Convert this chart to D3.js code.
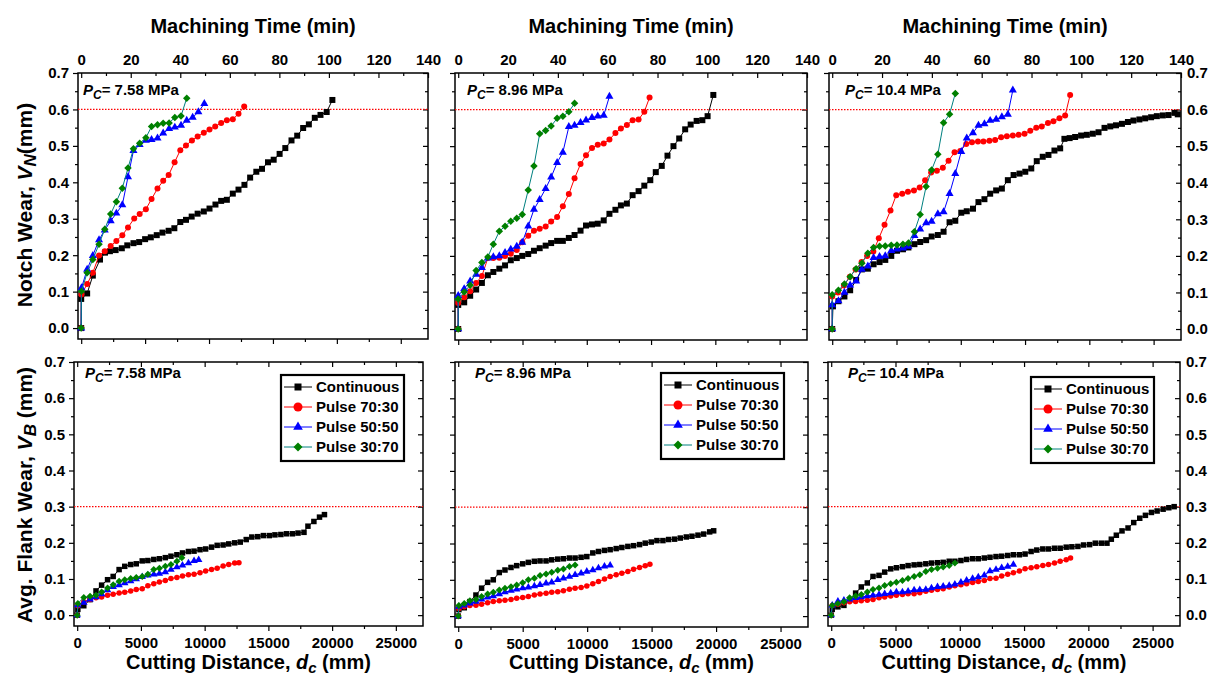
<!DOCTYPE html>
<html>
<head>
<meta charset="utf-8">
<script src="https://cdn.jsdelivr.net/npm/d3@7"></script>
<style>
  body { margin: 0; background: #fff; }
  svg text { font-family: "Liberation Sans", Arial, sans-serif; font-weight: bold; fill: #000; }
</style>
</head>
<body>
<svg id="chart" width="1208" height="678"></svg>
<script>
// ---- data ----
const seriesNames = ["Continuous", "Pulse 70:30", "Pulse 50:50", "Pulse 30:70"];
const pressureLabels = ["7.58", "8.96", "10.4"];
const timeTicks = [0, 20, 40, 60, 80, 100, 120, 140];
const distTicks = [0, 5000, 10000, 15000, 20000, 25000];
const wearTicks = [0, 0.1, 0.2, 0.3, 0.4, 0.5, 0.6, 0.7];
const notchLimit = 0.6;
const flankLimit = 0.3;

// notch wear VN (mm) vs machining time (min)
const vnCont758 = [[0,0],[0,0.08],[2.4,0.095],[4.7,0.144],[7.6,0.188],[9.6,0.207],[11.6,0.211],[13.9,0.214],[16.4,0.219],[18.6,0.227],[21.1,0.233],[23.4,0.236],[25.8,0.244],[28.1,0.249],[30.5,0.255],[32.8,0.262],[35.3,0.267],[37.6,0.274],[40,0.291],[42.3,0.297],[44.6,0.306],[47,0.314],[49.5,0.32],[51.8,0.328],[54.2,0.339],[56.5,0.349],[58.8,0.352],[61.2,0.369],[63.5,0.38],[65.9,0.393],[68.2,0.413],[70.7,0.429],[73,0.437],[75.4,0.455],[77.7,0.462],[80.1,0.478],[82.4,0.494],[84.9,0.515],[87.2,0.528],[89.6,0.549],[91.9,0.559],[94.3,0.577],[96.6,0.585],[99.1,0.593],[101.4,0.626]];
const vnP7030_758 = [[0,0],[0.1,0.092],[2.4,0.121],[4.7,0.152],[7.2,0.199],[9.5,0.211],[11.9,0.225],[14.2,0.239],[16.6,0.255],[18.9,0.276],[21.4,0.301],[23.6,0.313],[26.1,0.326],[28.4,0.354],[30.8,0.383],[33.1,0.404],[35.3,0.42],[37.7,0.455],[40,0.488],[42.3,0.501],[44.7,0.515],[47,0.526],[49.5,0.536],[51.8,0.545],[54.1,0.553],[56.5,0.563],[58.8,0.57],[61.2,0.573],[63.5,0.588],[65.8,0.608]];
const vnP5050_758 = [[0,0],[0.1,0.11],[2.4,0.161],[4.7,0.199],[7.2,0.242],[9.5,0.269],[11.9,0.294],[14.2,0.315],[16.6,0.338],[18.9,0.415],[21.1,0.487],[23.6,0.503],[26.1,0.515],[28.4,0.517],[30.8,0.521],[33.1,0.535],[35.5,0.547],[37.8,0.551],[40.3,0.556],[42.6,0.57],[45,0.578],[47.3,0.593],[49.7,0.616]];
const vnP3070_758 = [[0,0],[0.1,0.101],[2.4,0.152],[4.7,0.188],[7.2,0.23],[9.5,0.271],[11.9,0.313],[14.2,0.347],[16.6,0.384],[18.9,0.439],[21.1,0.492],[23.6,0.507],[26.1,0.522],[28.4,0.553],[30.8,0.558],[33.1,0.562],[35.5,0.563],[37.8,0.578],[40.3,0.582],[42.6,0.631]];

const vnCont896 = [[0,0],[0,0.066],[2.4,0.073],[4.8,0.091],[7.2,0.108],[9.5,0.126],[11.9,0.147],[14.1,0.156],[16.5,0.165],[18.8,0.174],[21.1,0.188],[23.5,0.194],[25.7,0.2],[28.1,0.205],[30.4,0.214],[32.7,0.221],[35.1,0.228],[37.3,0.235],[39.7,0.241],[42,0.241],[44.4,0.249],[46.7,0.257],[49.1,0.269],[51.3,0.283],[53.7,0.286],[56,0.288],[58.4,0.297],[60.7,0.315],[63.1,0.326],[65.3,0.338],[67.7,0.343],[70,0.366],[72.4,0.377],[74.7,0.392],[77.1,0.407],[79.3,0.429],[81.7,0.446],[84,0.474],[86.4,0.5],[88.7,0.521],[91.1,0.546],[93.3,0.559],[95.7,0.569],[98,0.571],[100.1,0.582],[102.4,0.64]];
const vnP7030_896 = [[0,0],[0,0.071],[2.4,0.087],[4.8,0.103],[7.2,0.126],[9.5,0.145],[11.9,0.194],[14.1,0.194],[16.5,0.195],[18.8,0.2],[21.1,0.206],[23.5,0.216],[25.7,0.237],[28.1,0.255],[30.4,0.269],[32.7,0.274],[35.1,0.28],[37.3,0.294],[39.7,0.306],[42,0.336],[44.4,0.369],[46.7,0.412],[49.1,0.451],[51.3,0.475],[53.7,0.495],[56,0.504],[58.4,0.507],[60.7,0.518],[63.1,0.536],[65.3,0.548],[67.7,0.558],[70,0.571],[72.4,0.573],[74.7,0.594],[76.8,0.633]];
const vnP5050_896 = [[0,0],[0,0.091],[2.4,0.11],[4.8,0.131],[7.2,0.149],[9.5,0.168],[11.9,0.194],[14.1,0.197],[16.5,0.2],[18.8,0.209],[21.1,0.218],[23.5,0.226],[25.7,0.237],[28.1,0.281],[30.4,0.327],[32.7,0.354],[35.1,0.384],[37.3,0.415],[39.7,0.455],[42,0.483],[44.4,0.553],[46.7,0.557],[49.1,0.564],[51.3,0.571],[53.7,0.578],[56,0.582],[58.4,0.584],[60.7,0.636]];
const vnP3070_896 = [[0,0],[0,0.082],[2.4,0.101],[4.8,0.12],[7.2,0.16],[9.5,0.182],[11.9,0.197],[14.1,0.232],[16.5,0.267],[18.8,0.281],[21.1,0.295],[23.5,0.303],[25.7,0.313],[28.1,0.38],[30.4,0.446],[32.7,0.534],[35.1,0.543],[37.3,0.555],[39.7,0.576],[42,0.582],[44.4,0.594],[46.7,0.617]];

const vnCont104 = [[0,0],[0.3,0.062],[2.5,0.076],[4.9,0.089],[7.2,0.106],[9.6,0.134],[11.9,0.163],[14.3,0.165],[16.6,0.177],[19,0.183],[21.3,0.189],[23.7,0.2],[26,0.214],[28.4,0.218],[30.6,0.223],[33,0.232],[35.3,0.238],[37.7,0.243],[39.9,0.253],[42.4,0.257],[44.7,0.266],[47.1,0.292],[49.4,0.296],[51.8,0.318],[54,0.322],[56.5,0.329],[58.7,0.347],[61.1,0.355],[63.4,0.37],[65.8,0.379],[68.1,0.384],[70.5,0.407],[72.8,0.421],[75.2,0.425],[77.5,0.43],[79.9,0.439],[82.1,0.459],[84.5,0.471],[86.8,0.476],[89.2,0.488],[91.5,0.494],[93.2,0.52],[95.3,0.522],[97.5,0.525],[99.9,0.529],[102.2,0.531],[104.6,0.534],[106.9,0.538],[109.3,0.55],[111.6,0.554],[113.9,0.557],[116.3,0.561],[118.7,0.566],[120.9,0.57],[123.3,0.573],[125.6,0.576],[128,0.579],[130.3,0.582],[132.7,0.584],[135,0.585],[137.4,0.591],[138.7,0.587]];
const vnP7030_104 = [[0,0],[0,0.089],[2.3,0.1],[4.7,0.119],[7.1,0.143],[9.4,0.163],[11.8,0.183],[14,0.2],[16.5,0.212],[18.7,0.248],[21,0.285],[23.4,0.324],[25.7,0.366],[28.1,0.37],[30.4,0.375],[32.8,0.379],[35.1,0.387],[37.3,0.407],[39.7,0.428],[42,0.433],[44.4,0.441],[46.7,0.46],[49.1,0.483],[51.4,0.487],[53.8,0.506],[56.1,0.511],[58.5,0.513],[60.7,0.513],[63.1,0.515],[65.4,0.517],[67.8,0.524],[70.1,0.527],[72.5,0.529],[74.8,0.531],[77.2,0.534],[79.5,0.542],[81.9,0.55],[84.1,0.554],[86.6,0.563],[88.8,0.568],[91.2,0.576],[93.5,0.584],[95.5,0.64]];
const vnP5050_104 = [[0,0],[0,0.066],[2.5,0.077],[4.9,0.1],[7.2,0.12],[9.6,0.131],[11.9,0.163],[14.3,0.172],[16.6,0.195],[19,0.198],[21.3,0.2],[23.7,0.214],[26,0.218],[28.4,0.221],[30.6,0.226],[33,0.255],[35.3,0.273],[37.7,0.29],[39.9,0.294],[42.4,0.315],[44.7,0.32],[47.1,0.37],[49.4,0.425],[51.8,0.485],[54,0.522],[56.5,0.536],[58.7,0.557],[61.1,0.561],[63.4,0.57],[65.8,0.573],[68.1,0.58],[70.5,0.587],[72.5,0.653]];
const vnP3070_104 = [[0,0],[0,0.094],[2.5,0.106],[4.9,0.123],[7.2,0.143],[9.6,0.165],[11.9,0.18],[14.3,0.207],[16.6,0.223],[19,0.226],[21.3,0.227],[23.7,0.229],[26,0.23],[28.4,0.232],[30.6,0.235],[33,0.266],[35.3,0.313],[37.7,0.39],[39.9,0.435],[42.4,0.478],[44.7,0.564],[47.1,0.587],[49.4,0.644]];

// average flank wear VB (mm) vs cutting distance (mm)
const vbCont758 = [[0,0],[52,0.016],[518,0.026],[1010,0.043],[1476,0.067],[1917,0.083],[2383,0.098],[2823,0.107],[3289,0.126],[3730,0.135],[4196,0.14],[4636,0.142],[5102,0.15],[5543,0.151],[6009,0.154],[6449,0.156],[6915,0.159],[7356,0.163],[7822,0.167],[8262,0.172],[8728,0.176],[9169,0.177],[9635,0.181],[10075,0.183],[10541,0.188],[10982,0.193],[11448,0.194],[11888,0.197],[12354,0.2],[12795,0.202],[13261,0.209],[13701,0.216],[14167,0.217],[14608,0.22],[15074,0.22],[15514,0.222],[15980,0.223],[16421,0.225],[16887,0.225],[17327,0.227],[17793,0.229],[18104,0.246],[18570,0.259],[19011,0.271],[19399,0.278]];
const vbP7030_758 = [[0,0],[52,0.026],[518,0.037],[1010,0.043],[1476,0.048],[1917,0.05],[2383,0.055],[2823,0.058],[3289,0.061],[3730,0.063],[4196,0.067],[4636,0.071],[5102,0.073],[5543,0.081],[6009,0.087],[6449,0.092],[6915,0.096],[7356,0.101],[7822,0.104],[8262,0.108],[8728,0.112],[9169,0.113],[9635,0.117],[10075,0.122],[10541,0.126],[10982,0.13],[11448,0.136],[11888,0.14],[12354,0.144],[12691,0.145]];
const vbP5050_758 = [[0,0],[52,0.028],[518,0.035],[1010,0.044],[1476,0.05],[1917,0.058],[2383,0.069],[2823,0.078],[3289,0.083],[3730,0.089],[4196,0.094],[4636,0.1],[5102,0.106],[5543,0.11],[6009,0.113],[6449,0.115],[6915,0.119],[7356,0.126],[7822,0.133],[8262,0.138],[8728,0.144],[9169,0.15],[9531,0.153]];
const vbP3070_758 = [[0,0],[52,0.032],[518,0.049],[1010,0.052],[1476,0.055],[1917,0.064],[2383,0.075],[2823,0.084],[3289,0.094],[3730,0.098],[4196,0.101],[4636,0.104],[5102,0.107],[5543,0.113],[6009,0.126],[6449,0.13],[6915,0.135],[7356,0.14],[7822,0.149],[8210,0.159]];

const vbCont896 = [[0,0],[52,0.018],[466,0.023],[906,0.04],[1373,0.058],[1813,0.077],[2279,0.093],[2720,0.1],[3186,0.12],[3626,0.127],[4092,0.134],[4533,0.139],[4999,0.144],[5439,0.148],[5905,0.151],[6346,0.152],[6812,0.152],[7252,0.155],[7718,0.157],[8159,0.158],[8625,0.16],[9065,0.16],[9531,0.162],[9972,0.164],[10438,0.174],[10878,0.178],[11344,0.181],[11785,0.183],[12251,0.186],[12691,0.189],[13157,0.192],[13598,0.194],[14064,0.197],[14504,0.201],[14970,0.204],[15411,0.208],[15877,0.208],[16317,0.211],[16783,0.212],[17224,0.215],[17690,0.218],[18130,0.22],[18596,0.223],[19037,0.226],[19503,0.232],[19814,0.235]];
const vbP7030_896 = [[0,0],[52,0.021],[466,0.026],[906,0.029],[1373,0.03],[1813,0.033],[2279,0.037],[2720,0.04],[3186,0.042],[3626,0.044],[4092,0.046],[4533,0.049],[4999,0.051],[5439,0.054],[5905,0.058],[6346,0.061],[6812,0.063],[7252,0.066],[7718,0.067],[8159,0.07],[8625,0.074],[9065,0.077],[9531,0.079],[9972,0.083],[10438,0.089],[10878,0.095],[11344,0.102],[11785,0.109],[12251,0.114],[12691,0.118],[13157,0.123],[13598,0.129],[14064,0.134],[14504,0.139],[14867,0.143]];
const vbP5050_896 = [[0,0],[52,0.026],[466,0.03],[906,0.035],[1373,0.04],[1813,0.046],[2279,0.052],[2720,0.055],[3186,0.061],[3626,0.066],[4092,0.07],[4533,0.074],[4999,0.077],[5439,0.079],[5905,0.083],[6346,0.086],[6812,0.09],[7252,0.093],[7718,0.1],[8159,0.104],[8625,0.109],[9065,0.114],[9531,0.118],[9972,0.123],[10438,0.127],[10878,0.132],[11344,0.137],[11785,0.14]];
const vbP3070_896 = [[0,0],[52,0.029],[466,0.035],[906,0.042],[1373,0.046],[1813,0.054],[2279,0.061],[2720,0.066],[3186,0.072],[3626,0.077],[4092,0.081],[4533,0.086],[4999,0.092],[5439,0.1],[5905,0.104],[6346,0.112],[6812,0.116],[7252,0.121],[7718,0.126],[8159,0.13],[8625,0.137],[9065,0.141]];

const vbCont104 = [[0,0],[78,0.016],[520,0.023],[988,0.027],[1430,0.041],[1898,0.061],[2340,0.078],[2808,0.089],[3250,0.107],[3718,0.11],[4160,0.119],[4628,0.128],[5070,0.131],[5538,0.134],[5980,0.137],[6448,0.139],[6890,0.14],[7358,0.142],[7800,0.144],[8268,0.145],[8710,0.146],[9178,0.149],[9620,0.149],[10088,0.151],[10530,0.154],[10998,0.156],[11440,0.156],[11908,0.158],[12350,0.16],[12818,0.162],[13260,0.163],[13728,0.165],[14170,0.167],[14638,0.167],[15080,0.169],[15548,0.176],[15990,0.18],[16458,0.183],[16900,0.183],[17368,0.185],[17810,0.185],[18278,0.188],[18720,0.189],[19188,0.19],[19630,0.194],[20098,0.195],[20540,0.199],[21008,0.199],[21450,0.199],[21788,0.21],[22178,0.221],[22620,0.233],[23088,0.241],[23530,0.256],[23998,0.268],[24440,0.276],[24908,0.284],[25350,0.288],[25818,0.293],[26260,0.297],[26676,0.3]];
const vbP7030_104 = [[0,0],[78,0.027],[520,0.03],[988,0.034],[1430,0.037],[1898,0.038],[2340,0.04],[2808,0.041],[3250,0.043],[3718,0.048],[4160,0.05],[4628,0.053],[5070,0.055],[5538,0.057],[5980,0.059],[6448,0.059],[6890,0.062],[7358,0.066],[7800,0.069],[8268,0.071],[8710,0.073],[9178,0.078],[9620,0.081],[10088,0.084],[10530,0.087],[10998,0.09],[11440,0.093],[11908,0.096],[12350,0.101],[12818,0.102],[13260,0.108],[13728,0.113],[14170,0.117],[14638,0.122],[15080,0.128],[15548,0.131],[15990,0.134],[16458,0.137],[16900,0.14],[17368,0.144],[17810,0.149],[18278,0.153],[18616,0.158]];
const vbP5050_104 = [[0,0],[78,0.027],[520,0.038],[988,0.041],[1430,0.044],[1898,0.048],[2340,0.05],[2808,0.053],[3250,0.055],[3718,0.057],[4160,0.059],[4628,0.061],[5070,0.064],[5538,0.064],[5980,0.066],[6448,0.069],[6890,0.07],[7358,0.071],[7800,0.075],[8268,0.078],[8710,0.08],[9178,0.082],[9620,0.085],[10088,0.091],[10530,0.096],[10998,0.101],[11440,0.105],[11908,0.11],[12350,0.122],[12818,0.126],[13260,0.131],[13728,0.134],[14170,0.14]];
const vbP3070_104 = [[0,0],[78,0.027],[520,0.032],[988,0.037],[1430,0.048],[1898,0.053],[2340,0.057],[2808,0.064],[3250,0.071],[3718,0.075],[4160,0.082],[4628,0.087],[5070,0.091],[5538,0.096],[5980,0.101],[6448,0.107],[6890,0.112],[7358,0.121],[7800,0.126],[8268,0.13],[8710,0.133],[9178,0.137],[9620,0.144]];

const notchSeries = [
  [vnCont758, vnP7030_758, vnP5050_758, vnP3070_758],
  [vnCont896, vnP7030_896, vnP5050_896, vnP3070_896],
  [vnCont104, vnP7030_104, vnP5050_104, vnP3070_104]
];
const flankSeries = [
  [vbCont758, vbP7030_758, vbP5050_758, vbP3070_758],
  [vbCont896, vbP7030_896, vbP5050_896, vbP3070_896],
  [vbCont104, vbP7030_104, vbP5050_104, vbP3070_104]
];

// ---- layout / style ----
const svg = d3.select("#chart");
const distDomain = [-250, 27130];
const mmPerMin = 27130 / 140;   // top time axis is a relabel of the distance axis
const wearDomain = [-0.03, 0.7];

const styles = [
  {line: "#000000", fill: "#000000", shape: "square"},
  {line: "#ff0000", fill: "#ff0000", shape: "circle"},
  {line: "#0000ff", fill: "#0000ff", shape: "triangle"},
  {line: "#008080", fill: "#008000", shape: "diamond"}
];

const boxes = [
  [{x0: 78, x1: 428, y0: 73, y1: 339}, {x0: 455, x1: 807, y0: 73, y1: 340}, {x0: 829, x1: 1181, y0: 73, y1: 340}],
  [{x0: 74, x1: 423, y0: 362, y1: 626}, {x0: 455, x1: 808, y0: 362, y1: 627}, {x0: 828, x1: 1180, y0: 362, y1: 626}]
];
const labelPos = [[[83, 95], [467, 95], [845, 95]], [[85, 378], [475, 378], [848, 378]]];
const legendPos = [[281, 375], [661, 373], [1031, 377]];

function markerPath(shape, s) {
  if (shape === "square") return d3.symbol(d3.symbolSquare, s * s)();
  if (shape === "circle") return d3.symbol(d3.symbolCircle, Math.PI * s * s / 4)();
  if (shape === "triangle") return d3.symbol(d3.symbolTriangle, s * s * 0.5)();
  return d3.symbol(d3.symbolSquare, s * s / 2)();
}

function styleAxis(g) {
  g.select(".domain").remove();
  g.selectAll(".tick line").attr("stroke", "#000").attr("stroke-width", 1.2);
  g.selectAll("text").style("font-size", "15px").attr("font-family", null);
}

function drawPanel(row, col) {
  const b = boxes[row][col];
  const g = svg.append("g");
  const x = d3.scaleLinear().domain(distDomain).range([b.x0, b.x1]);
  const xTime = d3.scaleLinear().domain(distDomain.map(d => d / mmPerMin)).range([b.x0, b.x1]);
  const y = d3.scaleLinear().domain(wearDomain).range([b.y1, b.y0]);
  const fmt = d3.format(".1f");
  const minorWear = d3.range(0.05, 0.7, 0.1);
  const minorDist = d3.range(2500, 27000, 5000);

  // left axis (ticks out)
  g.append("g").attr("transform", `translate(${b.x0},0)`)
    .call(d3.axisLeft(y).tickValues(wearTicks).tickSize(5).tickPadding(4)
      .tickFormat(col === 0 ? fmt : "")).call(styleAxis);
  g.append("g").attr("transform", `translate(${b.x0},0)`)
    .call(d3.axisLeft(y).tickValues(minorWear).tickSize(3).tickFormat("")).call(styleAxis);
  // right axis (ticks in)
  g.append("g").attr("transform", `translate(${b.x1},0)`)
    .call(d3.axisRight(y).tickValues(wearTicks).tickSize(-5).tickPadding(6)
      .tickFormat(col === 2 ? fmt : "")).call(styleAxis);
  g.append("g").attr("transform", `translate(${b.x1},0)`)
    .call(d3.axisRight(y).tickValues(minorWear).tickSize(-3).tickFormat("")).call(styleAxis);
  // bottom axis (ticks out)
  g.append("g").attr("transform", `translate(0,${b.y1})`)
    .call(d3.axisBottom(x).tickValues(distTicks).tickSize(5).tickPadding(6)
      .tickFormat(row === 1 ? d3.format("d") : "")).call(styleAxis);
  g.append("g").attr("transform", `translate(0,${b.y1})`)
    .call(d3.axisBottom(x).tickValues(minorDist).tickSize(3).tickFormat("")).call(styleAxis);
  // top axis (ticks in)
  if (row === 0) {
    g.append("g").attr("transform", `translate(0,${b.y0})`)
      .call(d3.axisTop(xTime).tickValues(timeTicks).tickSize(-5).tickPadding(8)).call(styleAxis);
    g.append("g").attr("transform", `translate(0,${b.y0})`)
      .call(d3.axisTop(xTime).tickValues(d3.range(10, 140, 20)).tickSize(-3).tickFormat("")).call(styleAxis);
  } else {
    g.append("g").attr("transform", `translate(0,${b.y0})`)
      .call(d3.axisTop(x).tickValues(distTicks).tickSize(-5).tickFormat("")).call(styleAxis);
    g.append("g").attr("transform", `translate(0,${b.y0})`)
      .call(d3.axisTop(x).tickValues(minorDist).tickSize(-3).tickFormat("")).call(styleAxis);
  }

  // frame
  g.append("rect").attr("x", b.x0).attr("y", b.y0)
    .attr("width", b.x1 - b.x0).attr("height", b.y1 - b.y0)
    .attr("fill", "none").attr("stroke", "#000").attr("stroke-width", 1.5);

  // wear criterion
  const lim = row === 0 ? notchLimit : flankLimit;
  g.append("line").attr("x1", b.x0).attr("x2", b.x1)
    .attr("y1", y(lim)).attr("y2", y(lim))
    .attr("stroke", "#ff0000").attr("stroke-width", 1.2).attr("stroke-dasharray", "1.5,1.5");

  // series
  const xs = row === 0 ? xTime : x;
  const data = row === 0 ? notchSeries[col] : flankSeries[col];
  const line = d3.line().x(d => xs(d[0])).y(d => y(d[1]));
  const msize = row === 0 ? 6 : 5.5;
  data.forEach((pts, i) => {
    const st = styles[i];
    g.append("path").datum(pts).attr("d", line)
      .attr("fill", "none").attr("stroke", st.line).attr("stroke-width", 1);
    const s = (st.shape === "diamond" || st.shape === "triangle") ? msize + 1.5 : msize;
    g.selectAll(null).data(pts).enter().append("path")
      .attr("d", markerPath(st.shape, s))
      .attr("transform", d => `translate(${xs(d[0])},${y(d[1])})` + (st.shape === "diamond" ? " rotate(45)" : ""))
      .attr("fill", st.fill);
  });

  // pressure label
  const [lx, ly] = labelPos[row][col];
  const t = g.append("text").attr("x", lx).attr("y", ly).style("font-size", "15px");
  t.append("tspan").style("font-style", "italic").text("P");
  t.append("tspan").style("font-style", "italic").style("font-size", "12px").attr("dy", 4).text("C");
  t.append("tspan").attr("dy", -4).text("= " + pressureLabels[col] + " MPa");

  // legend
  if (row === 1) {
    const [gx, gy] = legendPos[col];
    const lg = g.append("g").attr("transform", `translate(${gx},${gy})`);
    lg.append("rect").attr("width", 123).attr("height", 86)
      .attr("fill", "#fff").attr("stroke", "#000").attr("stroke-width", 2.2);
    seriesNames.forEach((name, i) => {
      const st = styles[i];
      const cy = 12 + i * 20;
      lg.append("line").attr("x1", 3).attr("x2", 31).attr("y1", cy).attr("y2", cy)
        .attr("stroke", st.line).attr("stroke-width", 1);
      const s = st.shape === "square" ? 7 : 9;
      lg.append("path").attr("d", markerPath(st.shape, s))
        .attr("transform", `translate(17,${cy})` + (st.shape === "diamond" ? " rotate(45)" : ""))
        .attr("fill", st.fill);
      lg.append("text").attr("x", 35).attr("y", cy).attr("dy", "0.35em")
        .style("font-size", "15px").text(name);
    });
  }
}

for (let r = 0; r < 2; r++) for (let c = 0; c < 3; c++) drawPanel(r, c);

// axis titles
boxes[0].forEach(b => {
  svg.append("text").attr("x", (b.x0 + b.x1) / 2).attr("y", 33)
    .attr("text-anchor", "middle").style("font-size", "20px").text("Machining Time (min)");
});
boxes[1].forEach(b => {
  const t = svg.append("text").attr("x", (b.x0 + b.x1) / 2).attr("y", 669)
    .attr("text-anchor", "middle").style("font-size", "20px");
  t.append("tspan").text("Cutting Distance, ");
  t.append("tspan").style("font-style", "italic").text("d");
  t.append("tspan").style("font-style", "italic").style("font-size", "15px").attr("dy", 4).text("c");
  t.append("tspan").attr("dy", -4).text(" (mm)");
});

const yt1 = svg.append("text").attr("transform", "translate(32,205) rotate(-90)")
  .attr("text-anchor", "middle").style("font-size", "21px");
yt1.append("tspan").text("Notch Wear, ");
yt1.append("tspan").style("font-style", "italic").text("V");
yt1.append("tspan").style("font-style", "italic").style("font-size", "17px").attr("dy", 4).text("N");
yt1.append("tspan").attr("dy", -4).text("(mm)");

const yt2 = svg.append("text").attr("transform", "translate(32,495) rotate(-90)")
  .attr("text-anchor", "middle").style("font-size", "21px");
yt2.append("tspan").text("Avg. Flank Wear, ");
yt2.append("tspan").style("font-style", "italic").text("V");
yt2.append("tspan").style("font-style", "italic").style("font-size", "17px").attr("dy", 4).text("B");
yt2.append("tspan").attr("dy", -4).text(" (mm)");
</script>
</body>
</html>
